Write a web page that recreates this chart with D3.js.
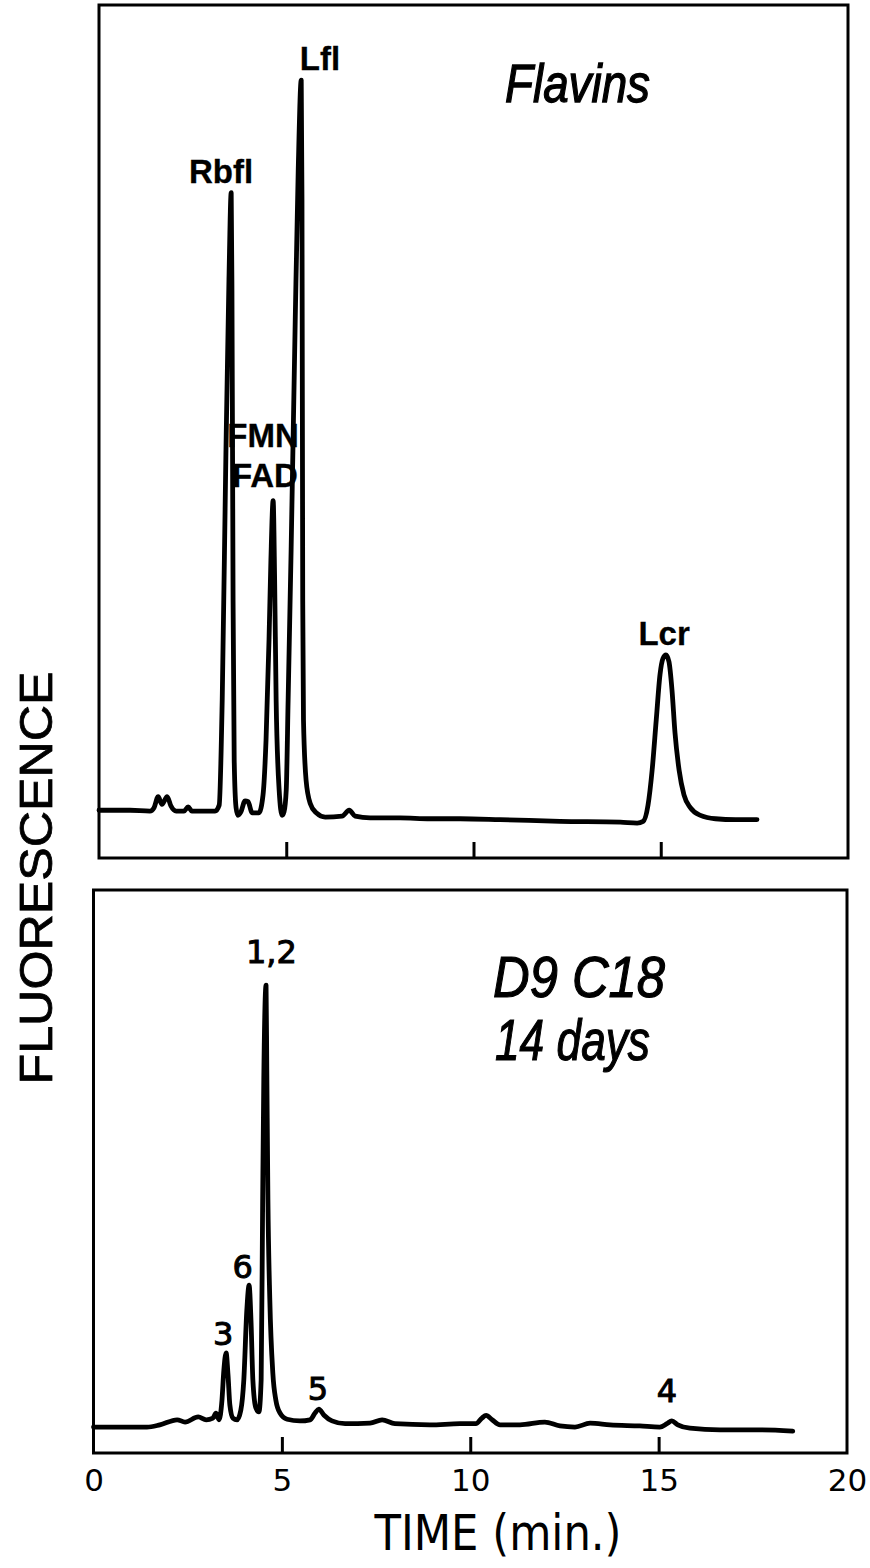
<!DOCTYPE html>
<html>
<head>
<meta charset="utf-8">
<script src="https://cdn.jsdelivr.net/npm/d3@7"></script>
<style>
body { margin: 0; background: #fff; }
text { fill: #000; font-family: "Liberation Sans", Arial, sans-serif; }
</style>
</head>
<body>
<div id="chart"></div>
<script>
// top trace: flavin standards (time in min, fluorescence in arbitrary units 0-100)
const flavinTime = [0.00, 0.83, 1.36, 1.47, 1.58, 1.68, 1.82, 1.92, 2.06, 2.27, 2.38, 2.48, 3.10, 3.21,
    3.29, 3.39, 3.47, 3.53, 3.55, 3.58, 3.61, 3.66, 3.71, 3.79, 3.90, 3.98, 4.09, 4.27, 4.38, 4.46,
    4.54, 4.59, 4.65, 4.69, 4.73, 4.81, 4.89, 4.94, 5.00, 5.05, 5.13, 5.24, 5.32, 5.40, 5.42, 5.44,
    5.46, 5.53, 5.64, 5.80, 6.04, 6.49, 6.68, 6.84, 7.24, 8.04, 8.84, 9.64, 10.71, 12.31, 13.92,
    14.37, 14.53, 14.66, 14.77, 14.88, 14.98, 15.06, 15.14, 15.22, 15.30, 15.38, 15.49, 15.62,
    15.79, 16.06, 16.46, 17.00, 17.57];
const flavinSignal = [5.6, 5.6, 5.5, 5.9, 7.2, 6.3, 7.2, 6.1, 5.5, 5.5, 6.0, 5.5, 5.5, 6.2,
    18.5, 47.8, 67.8, 78.0, 66.6, 30.2, 11.5, 5.9, 5.0, 5.4, 6.7, 6.6, 5.3, 5.3, 7.4, 13.8,
    25.6, 34.9, 41.9, 32.6, 18.5, 8.0, 5.0, 5.4, 8.0, 18.5, 36.1, 63.1, 80.7, 91.2, 77.1, 30.2,
    16.2, 9.1, 6.4, 5.3, 4.8, 4.9, 5.6, 4.9, 4.7, 4.7, 4.6, 4.6, 4.5, 4.3, 4.2,
    4.1, 4.3, 6.2, 10.3, 16.2, 21.5, 23.4, 23.8, 23.0, 19.7, 14.7, 10.3, 7.4,
    5.9, 5.0, 4.6, 4.5, 4.5];

// bottom trace: D9 C18 sample after 14 days
const sampleTime = [0.00, 1.42, 1.76, 2.22, 2.43, 2.78, 2.99, 3.17, 3.25, 3.33, 3.41, 3.46, 3.52,
    3.57, 3.62, 3.70, 3.81, 3.91, 3.99, 4.07, 4.13, 4.18, 4.23, 4.31, 4.39, 4.45, 4.49, 4.52, 4.58,
    4.60, 4.63, 4.68, 4.76, 4.84, 4.95, 5.14, 5.48, 5.75, 5.88, 5.98, 6.12, 6.33, 6.68, 7.34, 7.66,
    8.00, 8.93, 9.73, 10.15, 10.31, 10.42, 10.58, 10.79, 11.32, 11.98, 12.38, 12.78, 13.18, 13.71,
    14.50, 15.03, 15.22, 15.35, 15.51, 15.83, 16.63, 17.69, 18.56];
const sampleSignal = [4.6, 4.6, 5.0, 5.9, 5.5, 6.4, 5.9, 6.2, 7.1, 5.9, 9.4, 14.7, 17.8,
    13.9, 8.5, 6.2, 5.9, 7.6, 13.0, 25.4, 29.8, 23.6, 13.0, 8.0, 7.3, 13.0, 44.9, 66.3, 83.1,
    68.0, 44.9, 27.2, 14.2, 9.4, 7.1, 6.0, 5.7, 5.9, 7.1, 7.8, 6.7, 5.7, 5.2, 5.3, 5.9,
    5.2, 5.0, 5.2, 5.2, 6.2, 6.7, 5.9, 5.0, 5.0, 5.5, 4.8, 4.6, 5.3, 5.0,
    4.8, 4.6, 5.2, 5.7, 5.0, 4.4, 4.1, 4.1, 3.9];

const timeTicks = [0, 5, 10, 15, 20];
const innerTicks = [5, 10, 15];

const flavinPeaks = [
    {name: "Rbfl", t: 3.26, v: 79.1},
    {name: "Lfl", t: 5.90, v: 92.4},
    {name: "FMN", t: 4.38, v: 48.2},
    {name: "FAD", t: 4.43, v: 43.5},
    {name: "Lcr", t: 15.09, v: 25.0}
];
const samplePeaks = [
    {name: "1,2", t: 4.72, v: 87.0},
    {name: "6", t: 3.96, v: 31.1},
    {name: "3", t: 3.44, v: 19.2},
    {name: "5", t: 5.96, v: 9.4},
    {name: "4", t: 15.22, v: 9.1}
];

const width = 870, height = 1568;

const svg = d3.select("#chart")
    .append("svg")
    .attr("width", width)
    .attr("height", height);

const panels = [
    {time: flavinTime, signal: flavinSignal, peaks: flavinPeaks, left: 99, right: 848, top: 5, bottom: 858,
        labelSize: 33, weight: "bold", font: "'Liberation Sans', Arial, sans-serif", thick: 0.3},
    {time: sampleTime, signal: sampleSignal, peaks: samplePeaks, left: 93.5, right: 847, top: 890, bottom: 1453,
        labelSize: 32, weight: "normal", font: "'DejaVu Sans', sans-serif", thick: 1}
];

panels.forEach((p) => {
    p.x = d3.scaleLinear().domain([0, 20]).range([p.left, p.right]);
    p.y = d3.scaleLinear().domain([0, 100]).range([p.bottom, p.top]);

    svg.append("rect")
        .attr("x", p.left)
        .attr("y", p.top)
        .attr("width", p.right - p.left)
        .attr("height", p.bottom - p.top)
        .attr("fill", "none")
        .attr("stroke", "#000")
        .attr("stroke-width", 3);

    // short ticks pointing up from the bottom frame
    const ticks = svg.append("g")
        .attr("transform", "translate(0," + p.bottom + ")")
        .call(d3.axisBottom(p.x).tickValues(innerTicks).tickSize(-16).tickFormat(""));
    ticks.select(".domain").remove();
    ticks.selectAll("line").attr("stroke", "#000").attr("stroke-width", 3);

    const line = d3.line()
        .x((d) => p.x(d[0]))
        .y((d) => p.y(d[1]))
        .curve(d3.curveMonotoneX);

    svg.append("path")
        .datum(d3.zip(p.time, p.signal))
        .attr("d", line)
        .attr("fill", "none")
        .attr("stroke", "#000")
        .attr("stroke-width", 4.8)
        .attr("stroke-linejoin", "round")
        .attr("stroke-linecap", "round");

    svg.selectAll(null)
        .data(p.peaks)
        .enter()
        .append("text")
        .attr("x", (d) => p.x(d.t))
        .attr("y", (d) => p.y(d.v))
        .attr("text-anchor", "middle")
        .attr("font-size", p.labelSize)
        .attr("font-weight", p.weight)
        .attr("stroke", "#000")
        .attr("stroke-width", p.thick)
        .style("font-family", p.font)
        .text((d) => d.name);
});

// time axis labels under the bottom panel
const xb = panels[1].x;
const axis = svg.append("g")
    .attr("transform", "translate(0," + panels[1].bottom + ")")
    .call(d3.axisBottom(xb).tickValues(timeTicks).tickSize(0).tickPadding(16));
axis.select(".domain").remove();
axis.selectAll("text")
    .style("font-family", "'DejaVu Sans', sans-serif")
    .attr("font-size", 31)
    .attr("fill", "#000");

// titles inside panels
svg.append("text")
    .attr("x", 505).attr("y", 102)
    .attr("font-size", 54)
    .attr("font-style", "italic")
    .attr("stroke", "#000")
    .attr("stroke-width", 1.3)
    .attr("textLength", 145)
    .attr("lengthAdjust", "spacingAndGlyphs")
    .text("Flavins");

svg.append("text")
    .attr("x", 665).attr("y", 997)
    .attr("text-anchor", "end")
    .attr("font-size", 58)
    .attr("font-style", "italic")
    .attr("stroke", "#000")
    .attr("stroke-width", 1.2)
    .attr("textLength", 172)
    .attr("lengthAdjust", "spacingAndGlyphs")
    .text("D9 C18");

svg.append("text")
    .attr("x", 650).attr("y", 1060)
    .attr("text-anchor", "end")
    .attr("font-size", 58)
    .attr("font-style", "italic")
    .attr("stroke", "#000")
    .attr("stroke-width", 1.2)
    .attr("textLength", 155)
    .attr("lengthAdjust", "spacingAndGlyphs")
    .text("14 days");

// axis titles
svg.append("text")
    .attr("x", 498).attr("y", 1550)
    .attr("text-anchor", "middle")
    .attr("font-size", 50)
    .attr("textLength", 247)
    .attr("lengthAdjust", "spacingAndGlyphs")
    .style("font-family", "'DejaVu Sans', sans-serif")
    .text("TIME (min.)");

svg.append("text")
    .attr("transform", "translate(52,878) rotate(-90)")
    .attr("text-anchor", "middle")
    .attr("font-size", 47)
    .attr("stroke", "#000")
    .attr("stroke-width", 0.8)
    .attr("textLength", 413)
    .attr("lengthAdjust", "spacingAndGlyphs")
    .text("FLUORESCENCE");
</script>
</body>
</html>
